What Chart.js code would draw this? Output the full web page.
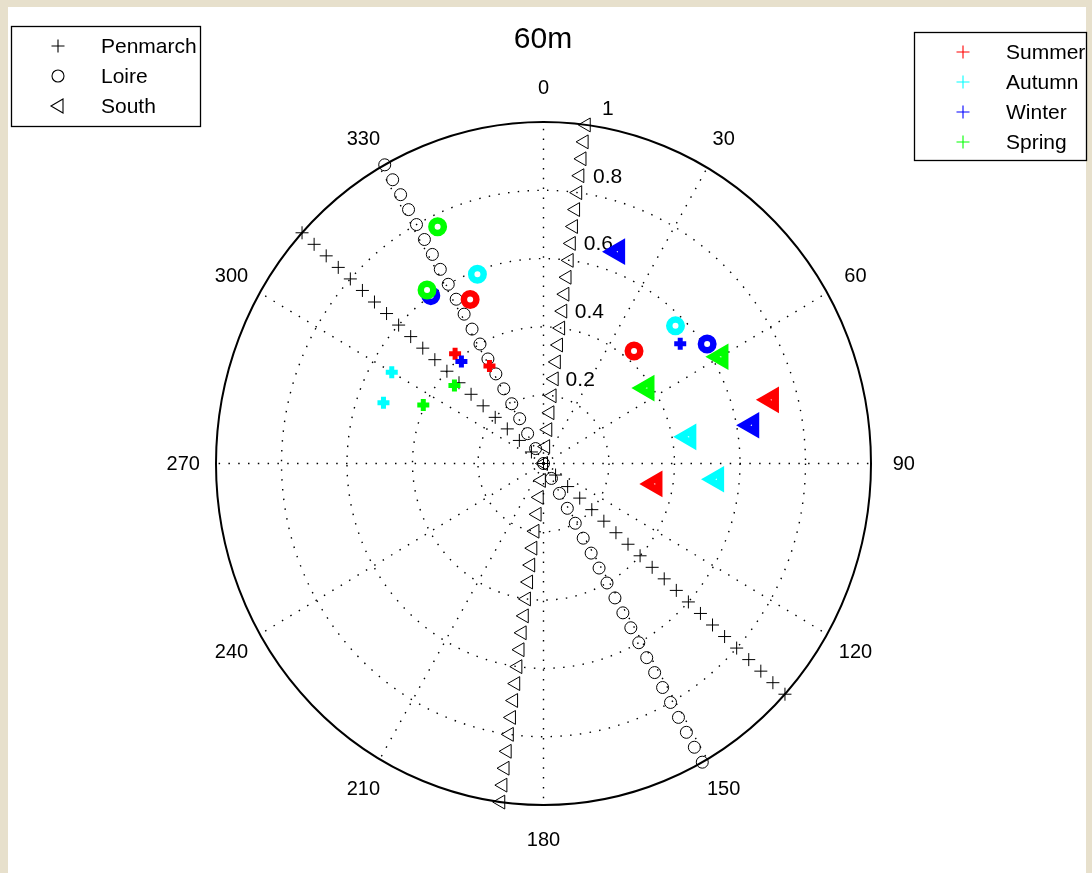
<!DOCTYPE html>
<html>
<head>
<meta charset="utf-8">
<title>60m</title>
<script src="https://cdn.jsdelivr.net/npm/chart.js@4/dist/chart.umd.min.js"></script>
<style>
  html, body { margin: 0; padding: 0; background: #e7e0cc; }
  #wrap { position: relative; width: 1092px; height: 873px; }
  canvas { display: block; }
</style>
</head>
<body>
<div id="wrap"><canvas id="c" width="1092" height="873"></canvas></div>
<script>
// ---- chart text and ticks ----
const titleText = '60m';
const angleTicks = [0, 30, 60, 90, 120, 150, 180, 210, 240, 270, 300, 330];
const radialTicks = [0.2, 0.4, 0.6, 0.8, 1];
const radialLabelAngle = 8;

// ---- reference directions of the three sites (degrees, clockwise from north) ----
const stationNames = ['Penmarch', 'Loire', 'South'];
const stationTheta = [312.5, 331, 7.5];
const lineRadii = [-1, -0.95, -0.9, -0.85, -0.8, -0.75, -0.7, -0.65, -0.6, -0.55,
  -0.5, -0.45, -0.4, -0.35, -0.3, -0.25, -0.2, -0.15, -0.1, -0.05, 0,
  0.05, 0.1, 0.15, 0.2, 0.25, 0.3, 0.35, 0.4, 0.45, 0.5, 0.55, 0.6, 0.65,
  0.7, 0.75, 0.8, 0.85, 0.9, 0.95, 1];

// ---- seasonal results: one row per season, two values per row ----
const seasonNames = ['Summer', 'Autumn', 'Winter', 'Spring'];
const seasonColors = ['#ff0000', '#00ffff', '#0000ff', '#00ff00'];

const penmarchTheta = [[320, 330], [300, 290], [320, 50], [310, 295]];
const penmarchR     = [[0.42, 0.33], [0.535, 0.52], [0.39, 0.545], [0.355, 0.405]];

const loireTheta = [[335, 40], [340, 45], [325, 55], [335, 325]];
const loireR     = [[0.53, 0.43], [0.59, 0.57], [0.60, 0.61], [0.765, 0.62]];

const southTheta = [[75, 100], [80, 95], [20, 80], [60, 55]];
const southR     = [[0.72, 0.345], [0.45, 0.53], [0.66, 0.645], [0.625, 0.385]];

// polar (compass angle, radius) -> cartesian data coordinates
const rad = d => d * Math.PI / 180;
function toXY(theta, r) {
  return { x: r * Math.sin(rad(theta)), y: r * Math.cos(rad(theta)) };
}

// marker styles per site
const lineStyles = [
  { pointStyle: 'cross', pointRadius: 6.5, pointRotation: 0, pointBorderWidth: 1 },
  { pointStyle: 'circle', pointRadius: 6, pointRotation: 0, pointBorderWidth: 1 },
  { pointStyle: 'triangle', pointRadius: 8, pointRotation: -90, pointBorderWidth: 1 }
];
const seasonStyles = [
  { pointStyle: 'cross', pointRadius: 6, pointRotation: 0, pointBorderWidth: 5 },
  { pointStyle: 'circle', pointRadius: 6.25, pointRotation: 0, pointBorderWidth: 6.5 },
  { pointStyle: 'triangle', pointRadius: 8.2, pointRotation: -90, pointBorderWidth: 7.2 }
];

const datasets = [];

stationNames.forEach((name, k) => {
  datasets.push(Object.assign({
    label: name,
    data: lineRadii.map(r => toXY(stationTheta[k], r)),
    pointBorderColor: '#000',
    borderColor: '#000',
    pointBackgroundColor: 'rgba(0,0,0,0)',
    backgroundColor: 'rgba(0,0,0,0)',
    showLine: false,
    clip: false,
    order: 10 + k
  }, lineStyles[k]));
});

const siteTheta = [penmarchTheta, loireTheta, southTheta];
const siteR = [penmarchR, loireR, southR];

seasonNames.forEach((season, s) => {
  stationNames.forEach((name, k) => {
    datasets.push(Object.assign({
      label: season + ' ' + name,
      data: siteTheta[k][s].map((t, i) => toXY(t, siteR[k][s][i])),
      pointBorderColor: seasonColors[s],
      borderColor: seasonColors[s],
      pointBackgroundColor: '#ffffff',
      backgroundColor: '#ffffff',
      showLine: false,
      clip: false,
      order: 5 - s
    }, seasonStyles[k]));
  });
});

const FONT = '"Liberation Sans", Arial, Helvetica, sans-serif';

// polar grid, labels, title and legends
const polarFrame = {
  id: 'polarFrame',
  beforeDraw(chart) {
    const ctx = chart.ctx;
    ctx.save();
    ctx.fillStyle = '#e7e0cc';
    ctx.fillRect(0, 0, chart.width, chart.height);
    ctx.fillStyle = '#ffffff';
    ctx.fillRect(8, 7, 1078, 866);
    ctx.restore();
  },
  beforeDatasetsDraw(chart) {
    const ctx = chart.ctx;
    const xs = chart.scales.x, ys = chart.scales.y;
    const px = v => xs.getPixelForValue(v);
    const py = v => ys.getPixelForValue(v);
    const cx = px(0), cy = py(0);
    ctx.save();

    // dotted rings
    ctx.strokeStyle = '#000';
    ctx.lineWidth = 1.4;
    ctx.setLineDash([1.5, 8.3]);
    radialTicks.slice(0, -1).forEach(r => {
      ctx.beginPath();
      ctx.ellipse(cx, cy, px(r) - cx, cy - py(r), 0, 0, Math.PI * 2);
      ctx.stroke();
    });
    // dotted spokes
    angleTicks.forEach(a => {
      const p = toXY(a, 1);
      ctx.beginPath();
      ctx.moveTo(cx, cy);
      ctx.lineTo(px(p.x), py(p.y));
      ctx.stroke();
    });
    ctx.setLineDash([]);

    // outer ring
    ctx.lineWidth = 2;
    ctx.beginPath();
    ctx.ellipse(cx, cy, px(1) - cx, cy - py(1), 0, 0, Math.PI * 2);
    ctx.stroke();

    // angle labels
    ctx.fillStyle = '#000';
    ctx.font = '20px ' + FONT;
    ctx.textAlign = 'center';
    ctx.textBaseline = 'middle';
    angleTicks.forEach(a => {
      const p = toXY(a, 1.1);
      ctx.fillText(String(a), px(p.x), py(p.y) + 1);
    });

    // radial labels
    ctx.textAlign = 'left';
    ctx.font = '21px ' + FONT;
    radialTicks.forEach(r => {
      const p = toXY(radialLabelAngle, r);
      ctx.fillText(String(r), px(p.x) + 13, py(p.y) - 16);
    });
    ctx.restore();
  },
  afterDraw(chart) {
    const ctx = chart.ctx;
    ctx.save();

    // title
    ctx.fillStyle = '#000';
    ctx.font = '30px ' + FONT;
    ctx.textAlign = 'center';
    ctx.textBaseline = 'middle';
    ctx.fillText(titleText, 543, 40);

    // left legend: sites
    ctx.strokeStyle = '#000';
    ctx.lineWidth = 1.3;
    ctx.strokeRect(11.5, 26.5, 189, 100);
    ctx.font = '21px ' + FONT;
    ctx.textAlign = 'left';
    const lx = 58, ly = [46, 76, 106];
    stationNames.forEach((name, k) => {
      drawMarker(ctx, lineStyles[k].pointStyle, lx, ly[k], '#000');
      ctx.fillStyle = '#000';
      ctx.fillText(name, 101, ly[k] + 1);
    });

    // right legend: seasons
    ctx.strokeStyle = '#000';
    ctx.lineWidth = 1.3;
    ctx.strokeRect(914.5, 32.5, 172, 128);
    const rx = 963, ry = [52, 82, 112, 142];
    seasonNames.forEach((name, s) => {
      drawMarker(ctx, 'cross', rx, ry[s], seasonColors[s]);
      ctx.fillStyle = '#000';
      ctx.fillText(name, 1006, ry[s] + 1);
    });
    ctx.restore();
  }
};

function drawMarker(ctx, style, x, y, color) {
  ctx.save();
  ctx.strokeStyle = color;
  ctx.lineWidth = 1.1;
  ctx.beginPath();
  if (style === 'cross') {
    ctx.moveTo(x - 6.5, y); ctx.lineTo(x + 6.5, y);
    ctx.moveTo(x, y - 6.5); ctx.lineTo(x, y + 6.5);
  } else if (style === 'circle') {
    ctx.arc(x, y, 6, 0, Math.PI * 2);
  } else {
    ctx.moveTo(x - 7, y);
    ctx.lineTo(x + 5, y - 7);
    ctx.lineTo(x + 5, y + 7);
    ctx.closePath();
  }
  ctx.stroke();
  ctx.restore();
}

new Chart(document.getElementById('c'), {
  type: 'scatter',
  data: { datasets },
  options: {
    responsive: false,
    animation: false,
    events: [],
    layout: { padding: { left: 216, right: 221, top: 122, bottom: 68 } },
    scales: {
      x: { type: 'linear', min: -1, max: 1, display: false },
      y: { type: 'linear', min: -1, max: 1, display: false }
    },
    plugins: {
      legend: { display: false },
      tooltip: { enabled: false },
      title: { display: false }
    }
  },
  plugins: [polarFrame]
});
</script>
</body>
</html>
